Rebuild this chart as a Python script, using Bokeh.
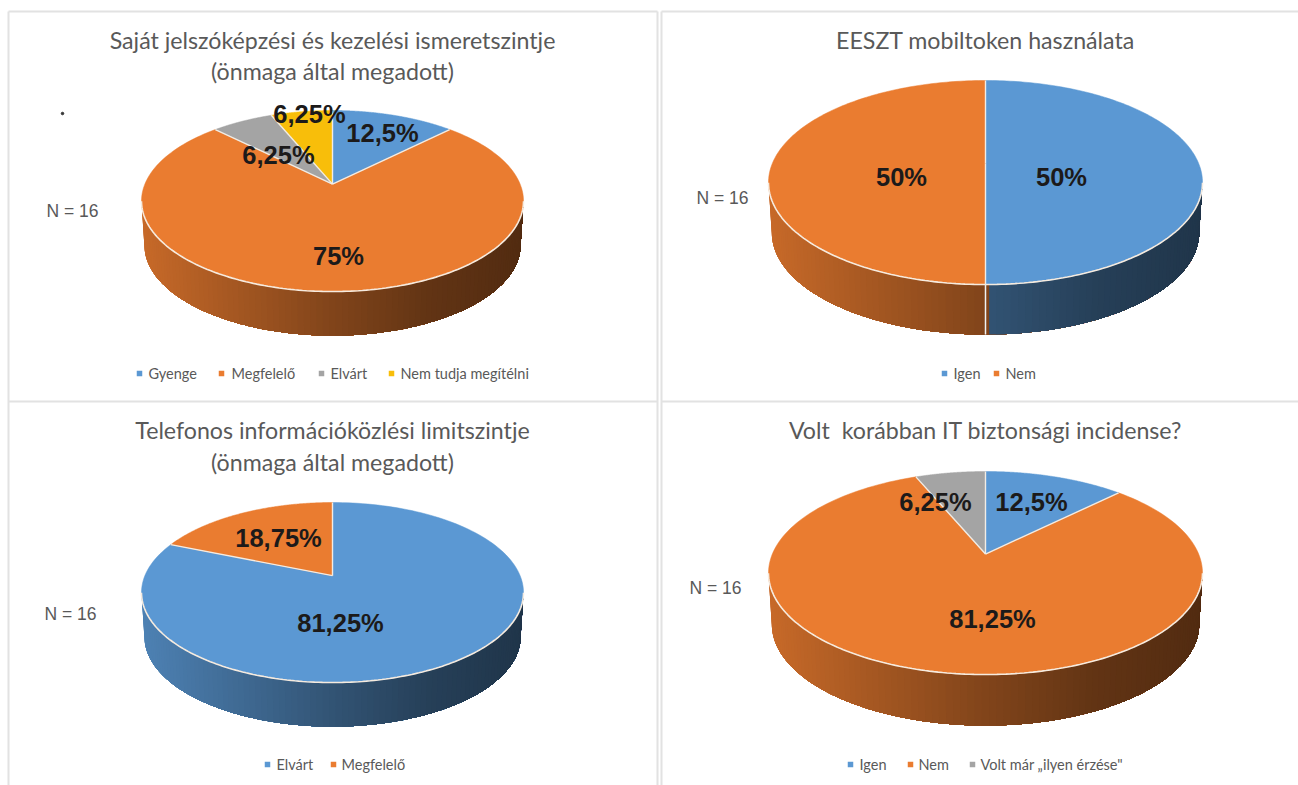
import numpy as np
from bokeh.embed import file_html
from bokeh.models import Range1d
from bokeh.plotting import figure
from bokeh.resources import INLINE

# ---- data ----
labels_a = ["Gyenge", "Megfelelő", "Elvárt", "Nem tudja megítélni"]
values_a = [12.5, 75, 6.25, 6.25]
labels_b = ["Igen", "Nem"]
values_b = [50, 50]
labels_c = ["Elvárt", "Megfelelő"]
values_c = [81.25, 18.75]
labels_d = ["Igen", "Nem", "Volt már „ilyen érzése\""]
values_d = [12.5, 81.25, 6.25]
titles_a = ["Saját jelszóképzési és kezelési ismeretszintje", "(önmaga által megadott)"]
titles_b = ["EESZT mobiltoken használata"]
titles_c = ["Telefonos információközlési limitszintje", "(önmaga által megadott)"]
titles_d = ["Volt \u00a0korábban IT biztonsági incidense?"]
value_text_a = ["12,5%", "75%", "6,25%", "6,25%"]
value_text_b = ["50%", "50%"]
value_text_c = ["81,25%", "18,75%"]
value_text_d = ["12,5%", "81,25%", "6,25%"]
sample_note = "N = 16"

# ---- styles and layout ----
BLUE, ORANGE, GRAY, YELLOW = "#5B98D3", "#EA7C30", "#A4A4A4", "#F8BE0A"
colors_a = [BLUE, ORANGE, GRAY, YELLOW]
colors_b = [BLUE, ORANGE]
colors_d = [BLUE, ORANGE, GRAY]
TITLE_FONT = "Lato"
LABEL_FONT = "Liberation Sans"
TEXT_GRAY = "#595959"

panels = [
    dict(labels=labels_a, values=values_a, colors=colors_a, titles=titles_a, vtext=value_text_a,
         cx=332, top=110, bottom=291, half=191, depth=44, title_x=332, title_y=[39, 70],
         note=(72, 210), vpos=[(382, 132), (338, 255), (278, 154), (309, 113)],
         legend_y=373, mark_x=[139, 221, 321, 391], text_x=[148, 231, 330, 400]),
    dict(labels=labels_b, values=values_b, colors=colors_b, titles=titles_b, vtext=value_text_b,
         cx=985, top=80, bottom=284, half=217, depth=50, title_x=985, title_y=[39],
         note=(722, 197), vpos=[(1061, 176), (901, 176)],
         legend_y=373, mark_x=[944, 996], text_x=[953, 1005]),
    dict(labels=labels_c, values=values_c, colors=colors_b, titles=titles_c, vtext=value_text_c,
         cx=332, top=502, bottom=682, half=191, depth=44, title_x=332, title_y=[429, 461],
         note=(70, 613), vpos=[(340, 622), (278, 537)],
         legend_y=764, mark_x=[267, 333], text_x=[276, 341]),
    dict(labels=labels_d, values=values_d, colors=colors_d, titles=titles_d, vtext=value_text_d,
         cx=985, top=471, bottom=674, half=217, depth=51, title_x=985, title_y=[429],
         note=(715, 587), vpos=[(1031, 501), (992, 618), (935, 501)],
         legend_y=764, mark_x=[850, 910, 972], text_x=[859, 918, 980]),
]

p = figure(width=1298, height=785, output_backend="svg", toolbar_location=None,
           x_range=Range1d(0, 1298), y_range=Range1d(785, 0),
           min_border=0, outline_line_color=None)
p.axis.visible = False
p.grid.visible = False
p.background_fill_color = "white"
p.border_fill_color = "white"

# panel frames
BORDER = "#e2e2e2"
p.segment(x0=[8, 8, 657, 661, 8, 661, 661], y0=[11, 11, 11, 11, 401, 401, 11],
          x1=[8, 657, 657, 661, 657, 1298, 1298], y1=[785, 11, 785, 785, 401, 401, 11],
          line_color=BORDER, line_width=2)
p.scatter(x=[62], y=[113], size=2.5, color="#333333")

K = 0.187  # perspective of the tilted disc


def project(t, cx, apex, rx, ry):
    """t: clockwise angle from the top of the pie."""
    u, v = np.sin(t), np.cos(t)
    w = 1 + K * v
    return cx + rx * u / w, apex - ry * v / w


def shade(hex_color, f):
    rgb = [int(hex_color[i:i + 2], 16) for i in (1, 3, 5)]
    return "#%02x%02x%02x" % tuple(int(round(c * f)) for c in rgb)


for pn in panels:
    vals = np.array(pn["values"], dtype=float)
    edges = np.concatenate([[0], np.cumsum(vals)]) / vals.sum() * 2 * np.pi
    cx, top, bottom, half, depth = pn["cx"], pn["top"], pn["bottom"], pn["half"], pn["depth"]
    apex = top + (bottom - top) * 74 / 182
    ry = (apex - top) * (1 + K)
    rx = half * np.sqrt(1 - K * K)
    start = np.pi / 2 + 0.19   # widest point of the projected disc

    # side wall: overlapping strips painted left to right carry the gradient without seams
    ts = np.linspace(2 * np.pi - start, start, 100)
    xu, yu = project(ts, cx, apex, rx, ry)
    xl, yl = project(ts, cx, apex, rx * 0.985, ry)
    yl = yl + depth
    xs, ys, cols = [], [], []
    for j in range(len(ts) - 1):
        mid = (ts[j] + ts[j + 1]) / 2
        idx = min(np.searchsorted(edges, mid, side="right") - 1, len(vals) - 1)
        xs.append(np.r_[xu[j:], xl[j:][::-1]])
        ys.append(np.r_[yu[j:], yl[j:][::-1]])
        frac = ((xu[j] + xu[j + 1]) / 2 - (cx - half)) / (2 * half)
        cols.append(shade(pn["colors"][idx], np.interp(frac, [0, 0.5, 0.75, 1], [0.85, 0.55, 0.42, 0.35])))
    p.patches(xs, ys, fill_color=cols, line_color=None)

    # white seam where a slice boundary falls on the visible wall
    for e in edges[1:-1]:
        if start < e < 2 * np.pi - start:
            ex, ey = project(e, cx, apex, rx, ry)
            p.line([ex, ex], [ey, ey + depth], line_color="#eef2f5", line_width=1.5)

    # top surface
    for i, col in enumerate(pn["colors"]):
        t = np.linspace(edges[i], edges[i + 1], 160)
        x, y = project(t, cx, apex, rx, ry)
        p.patch(np.r_[cx, x], np.r_[apex, y], fill_color=col, line_color=col, line_width=0.5)
    for e in edges[:-1]:
        ex, ey = project(e, cx, apex, rx, ry)
        p.line([cx, ex], [apex, ey], line_color="#f2ece4", line_width=1.4)
    t = np.linspace(start, 2 * np.pi - start, 160)
    x, y = project(t, cx, apex, rx, ry)
    p.line(x, y, line_color="#f6ebdf", line_width=1.6)

    # value labels
    vx, vy = zip(*pn["vpos"])
    p.text(x=list(vx), y=list(vy), text=pn["vtext"], text_font={"value": LABEL_FONT},
           text_font_size="25.5px", text_font_style="bold", text_align="center",
           text_baseline="middle", text_color="#1c1a1a")

    # titles, sample size, legend
    p.text(x=[pn["title_x"]] * len(pn["titles"]), y=pn["title_y"], text=pn["titles"],
           text_font={"value": TITLE_FONT}, text_font_size="23.2px", text_align="center",
           text_baseline="middle", text_color=TEXT_GRAY)
    p.text(x=[pn["note"][0]], y=[pn["note"][1]], text=[sample_note],
           text_font={"value": LABEL_FONT}, text_font_size="17.5px", text_align="center",
           text_baseline="middle", text_color=TEXT_GRAY)
    n = len(pn["labels"])
    p.scatter(x=pn["mark_x"], y=[pn["legend_y"]] * n, marker="square", size=5.5,
              fill_color=pn["colors"], line_color=None)
    p.text(x=pn["text_x"], y=[pn["legend_y"]] * n, text=pn["labels"],
           text_font={"value": TITLE_FONT}, text_font_size="14.5px", text_align="left",
           text_baseline="middle", text_color=TEXT_GRAY)

open("out.html", "w").write(file_html(p, INLINE))
